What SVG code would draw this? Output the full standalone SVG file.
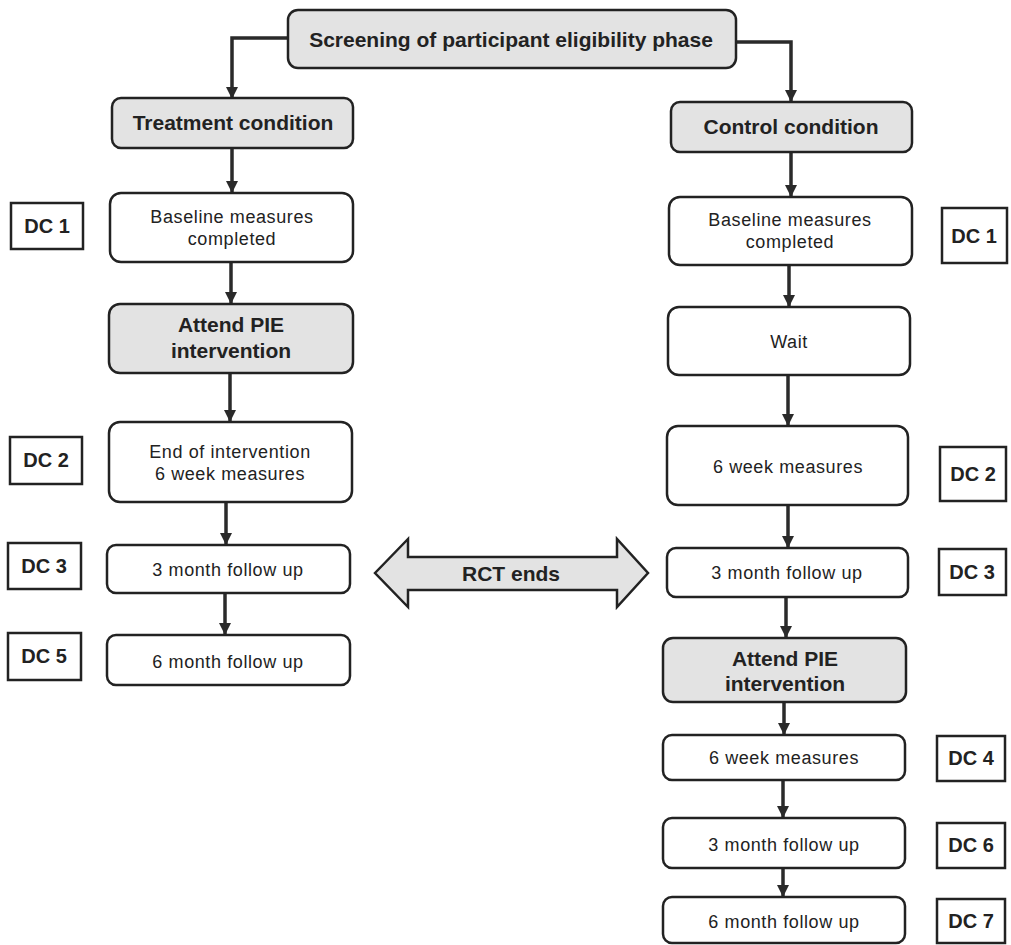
<svg xmlns="http://www.w3.org/2000/svg" width="1011" height="945" viewBox="0 0 1011 945">
<defs>
<style>
.box{fill:#ffffff;stroke:#222;stroke-width:2.5}
.gray{fill:#e3e3e3;stroke:#222;stroke-width:2.5}
.dc{fill:#ffffff;stroke:#222;stroke-width:2.5}
.t{font-family:"Liberation Sans",Arial,sans-serif;font-size:18px;letter-spacing:0.6px;fill:#222;text-anchor:middle}
.b{font-family:"Liberation Sans",Arial,sans-serif;font-size:21px;font-weight:bold;fill:#222;text-anchor:middle}
.d{font-family:"Liberation Sans",Arial,sans-serif;font-size:20px;font-weight:bold;fill:#222;text-anchor:middle}
.c{fill:none;stroke:#2a2a2a;stroke-width:3.5}
</style>
<marker id="ah" markerUnits="userSpaceOnUse" markerWidth="14" markerHeight="14" refX="12" refY="6" orient="auto">
<path d="M0,0 L12,6 L0,12 z" fill="#2a2a2a"/>
</marker>
</defs>
<rect width="1011" height="945" fill="#ffffff"/>

<g id="connectors">
<path class="c" d="M288,38 H232 V99" marker-end="url(#ah)"/>
<path class="c" d="M736,42 H791 V102" marker-end="url(#ah)"/>
<path class="c" d="M232,148 V193" marker-end="url(#ah)"/>
<path class="c" d="M231,262 V304" marker-end="url(#ah)"/>
<path class="c" d="M230,373 V422" marker-end="url(#ah)"/>
<path class="c" d="M226,503 V545" marker-end="url(#ah)"/>
<path class="c" d="M225,593 V635" marker-end="url(#ah)"/>
<path class="c" d="M791,152 V197" marker-end="url(#ah)"/>
<path class="c" d="M789,265 V307" marker-end="url(#ah)"/>
<path class="c" d="M788,375 V426" marker-end="url(#ah)"/>
<path class="c" d="M788,505 V548" marker-end="url(#ah)"/>
<path class="c" d="M786,597 V638" marker-end="url(#ah)"/>
<path class="c" d="M784,702 V735" marker-end="url(#ah)"/>
<path class="c" d="M783,780 V818" marker-end="url(#ah)"/>
<path class="c" d="M783,868 V897" marker-end="url(#ah)"/>
</g>

<g id="screening">
<rect class="gray" x="288" y="10" width="448" height="58" rx="10"/>
<text class="b" x="511" y="47">Screening of participant eligibility phase</text>
</g>

<g id="treatment">
<rect class="gray" x="112" y="98" width="241" height="50" rx="9"/>
<text class="b" x="233" y="130">Treatment condition</text>
</g>
<g id="control">
<rect class="gray" x="671" y="102" width="241" height="50" rx="9"/>
<text class="b" x="791" y="134">Control condition</text>
</g>

<g id="t-baseline">
<rect class="box" x="110" y="193" width="243" height="69" rx="11"/>
<text class="t" x="232" y="223">Baseline measures</text>
<text class="t" x="232" y="245">completed</text>
</g>
<g id="t-attend">
<rect class="gray" x="109" y="304" width="244" height="69" rx="11"/>
<text class="b" x="231" y="332">Attend PIE</text>
<text class="b" x="231" y="358">intervention</text>
</g>
<g id="t-end">
<rect class="box" x="109" y="422" width="243" height="80" rx="11"/>
<text class="t" x="230" y="458">End of intervention</text>
<text class="t" x="230" y="480">6 week measures</text>
</g>
<g id="t-3mo">
<rect class="box" x="107" y="545" width="243" height="48" rx="9"/>
<text class="t" x="228" y="576">3 month follow up</text>
</g>
<g id="t-6mo">
<rect class="box" x="107" y="635" width="243" height="50" rx="9"/>
<text class="t" x="228" y="668">6 month follow up</text>
</g>

<g id="t-dc1"><rect class="dc" x="11" y="203" width="72" height="46"/><text class="d" x="47" y="233">DC 1</text></g>
<g id="t-dc2"><rect class="dc" x="10" y="437" width="72" height="47"/><text class="d" x="46" y="467">DC 2</text></g>
<g id="t-dc3"><rect class="dc" x="8" y="543" width="73" height="46"/><text class="d" x="44" y="573">DC 3</text></g>
<g id="t-dc5"><rect class="dc" x="8" y="633" width="73" height="47"/><text class="d" x="44" y="663">DC 5</text></g>

<g id="rct">
<path class="gray" d="M375,573 L408,539 L408,557 L617,557 L617,539 L648,573 L617,607 L617,590 L408,590 L408,607 Z" stroke-linejoin="miter"/>
<text class="b" x="511" y="581">RCT ends</text>
</g>

<g id="c-baseline">
<rect class="box" x="669" y="197" width="243" height="68" rx="11"/>
<text class="t" x="790" y="226">Baseline measures</text>
<text class="t" x="790" y="248">completed</text>
</g>
<g id="c-wait">
<rect class="box" x="668" y="307" width="242" height="68" rx="11"/>
<text class="t" x="789" y="348">Wait</text>
</g>
<g id="c-6wk">
<rect class="box" x="667" y="426" width="241" height="79" rx="11"/>
<text class="t" x="788" y="473">6 week measures</text>
</g>
<g id="c-3mo">
<rect class="box" x="667" y="548" width="241" height="49" rx="9"/>
<text class="t" x="787" y="579">3 month follow up</text>
</g>
<g id="c-attend">
<rect class="gray" x="663" y="638" width="243" height="64" rx="10"/>
<text class="b" x="785" y="666">Attend PIE</text>
<text class="b" x="785" y="691">intervention</text>
</g>
<g id="c-6wk2">
<rect class="box" x="663" y="735" width="242" height="45" rx="9"/>
<text class="t" x="784" y="764">6 week measures</text>
</g>
<g id="c-3mo2">
<rect class="box" x="663" y="818" width="242" height="50" rx="9"/>
<text class="t" x="784" y="851">3 month follow up</text>
</g>
<g id="c-6mo2">
<rect class="box" x="663" y="897" width="242" height="46" rx="9"/>
<text class="t" x="784" y="928">6 month follow up</text>
</g>

<g id="c-dc1"><rect class="dc" x="942" y="208" width="65" height="55"/><text class="d" x="974" y="243">DC 1</text></g>
<g id="c-dc2"><rect class="dc" x="940" y="447" width="66" height="54"/><text class="d" x="973" y="481">DC 2</text></g>
<g id="c-dc3"><rect class="dc" x="939" y="549" width="67" height="46"/><text class="d" x="972" y="579">DC 3</text></g>
<g id="c-dc4"><rect class="dc" x="937" y="736" width="68" height="45"/><text class="d" x="971" y="765">DC 4</text></g>
<g id="c-dc6"><rect class="dc" x="937" y="823" width="68" height="45"/><text class="d" x="971" y="852">DC 6</text></g>
<g id="c-dc7"><rect class="dc" x="937" y="899" width="68" height="44"/><text class="d" x="971" y="928">DC 7</text></g>
</svg>
